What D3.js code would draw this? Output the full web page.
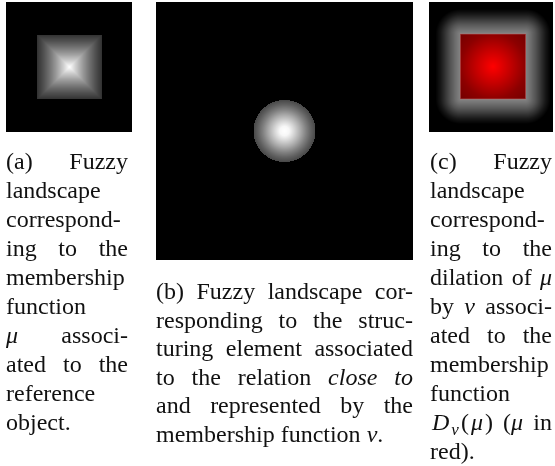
<!DOCTYPE html>
<html lang="en">
<head>
<meta charset="UTF-8">
<title>Fuzzy landscapes</title>
<script src="https://d3js.org/d3.v7.min.js"></script>
<style>
  body { margin: 0; background: #fff; }
  #fig { position: relative; width: 555px; height: 466px; }
  #fig canvas { position: absolute; }
  #fig svg { position: absolute; left: 0; top: 0; }
  text { font-family: 'Liberation Serif', 'Times New Roman', serif; font-size: 24px; fill: #111; }
</style>
</head>
<body>
<div id="fig"></div>
<script>
// grey levels (0..1), against distance from the centre (1 = edge of the object)
const muDist  = [0, 0.2, 0.4, 0.6, 0.8, 1];
const muGrey  = [1, 0.80, 0.62, 0.46, 0.32, 0.2];
const nuDist  = [0, 0.15, 0.3, 0.5, 0.7, 0.85, 1];
const nuGrey  = [1, 0.97, 0.85, 0.68, 0.5, 0.38, 0.28];
// dilation outside the square, distance in units of the nu radius
const dilDist = [0, 0.2, 0.4, 0.6, 0.8, 1];
const dilGrey = [0.52, 0.43, 0.33, 0.21, 0.09, 0];
// red channel of mu inside the square of (c)
const redDist  = [0, 0.5, 1, 1.42];
const redLevel = [1, 0.78, 0.55, 0.45];

const captionA = [
  "(a) Fuzzy",
  "landscape",
  "correspond-",
  "ing to the",
  "membership",
  "function",
  "*μ* associ-",
  "ated to the",
  "reference",
  "object."
];
const captionB = [
  "(b) Fuzzy landscape cor-",
  "responding to the struc-",
  "turing element associated",
  "to the relation *close* *to*",
  "and represented by the",
  "membership function *ν*."
];
const captionC = [
  "(c) Fuzzy",
  "landscape",
  "correspond-",
  "ing to the",
  "dilation of *μ*",
  "by *ν* associ-",
  "ated to the",
  "membership",
  "function",
  "*D*_{ν}(*μ*) (*μ* in",
  "red)."
];

const fig = d3.select("#fig");

// paint one image pixel by pixel; shade(px, py) -> [r, g, b]
function paint(x, y, w, h, shade) {
  const canvas = fig.append("canvas")
      .attr("width", w).attr("height", h)
      .style("left", x + "px").style("top", y + "px");
  const ctx = canvas.node().getContext("2d");
  const img = ctx.createImageData(w, h);
  for (let j = 0; j < h; j++) {
    for (let i = 0; i < w; i++) {
      const c = shade(x + i + 0.5, y + j + 0.5);
      const k = (j * w + i) * 4;
      img.data[k] = c[0]; img.data[k + 1] = c[1]; img.data[k + 2] = c[2]; img.data[k + 3] = 255;
    }
  }
  ctx.putImageData(img, 0, 0);
}

const muScale  = d3.scaleLinear().domain(muDist).range(muGrey).clamp(true);
const nuScale  = d3.scaleLinear().domain(nuDist).range(nuGrey).clamp(true);
const dilScale = d3.scaleLinear().domain(dilDist).range(dilGrey).clamp(true);
const redScale = d3.scaleLinear().domain(redDist).range(redLevel).clamp(true);

// (a) mu: square pyramid
const A = { x: 6, y: 2, w: 126, h: 130, cx: 69.5, cy: 67, half: 32 };
const ax = d3.scaleLinear().domain([A.cx - A.half, A.cx + A.half]).range([-1, 1]);
const ay = d3.scaleLinear().domain([A.cy - A.half, A.cy + A.half]).range([-1, 1]);
paint(A.x, A.y, A.w, A.h, (px, py) => {
  const d = Math.max(Math.abs(ax(px)), Math.abs(ay(py)));
  if (d > 1) return [0, 0, 0];
  const g = Math.round(muScale(d) * 255);
  return [g, g, g];
});

// (b) nu: disc
const B = { x: 156, y: 2, w: 257, h: 258, cx: 284.5, cy: 131, r: 31 };
const bx = d3.scaleLinear().domain([B.cx - B.r, B.cx + B.r]).range([-1, 1]);
const by = d3.scaleLinear().domain([B.cy - B.r, B.cy + B.r]).range([-1, 1]);
paint(B.x, B.y, B.w, B.h, (px, py) => {
  const r = Math.hypot(bx(px), by(py));
  if (r > 1) return [0, 0, 0];
  const g = Math.round(nuScale(r) * 255);
  return [g, g, g];
});

// (c) dilation of mu by nu, mu in red
const C = { x: 429, y: 2, w: 124, h: 130, cx: 493, cy: 66.5, half: 32.5, r: 25 };
const cx = d3.scaleLinear().domain([C.cx - C.half, C.cx + C.half]).range([-1, 1]);
const cy = d3.scaleLinear().domain([C.cy - C.half, C.cy + C.half]).range([-1, 1]);
paint(C.x, C.y, C.w, C.h, (px, py) => {
  const u = cx(px), v = cy(py);
  if (Math.abs(u) <= 1 && Math.abs(v) <= 1) {
    return [Math.round(redScale(Math.hypot(u, v)) * 255), 0, 0];
  }
  const dx = Math.max(Math.abs(px - C.cx) - C.half, 0);
  const dy = Math.max(Math.abs(py - C.cy) - C.half, 0);
  const g = Math.round(dilScale(Math.hypot(dx, dy) / C.r) * 255);
  return [g, g, g];
});

const svg = fig.append("svg").attr("width", 555).attr("height", 466);

svg.append("rect")
    .attr("x", C.cx - C.half).attr("y", C.cy - C.half)
    .attr("width", C.half * 2).attr("height", C.half * 2)
    .attr("fill", "none")
    .attr("stroke", "rgba(190,110,110,0.55)")
    .attr("stroke-width", 1);

// split a word into runs: *italic*, _{subscript}
function runs(word) {
  return word.split(/(\*[^*]+\*|_\{[^}]+\})/).filter(s => s).map(s => {
    if (s[0] === "*") return { t: s.slice(1, -1), it: true };
    if (s[0] === "_") return { t: s.slice(2, -1), it: true, sub: true };
    return { t: s };
  });
}

function caption(lines, left, right, top, lh) {
  const g = svg.append("g");
  lines.forEach((line, li) => {
    const y = top + li * lh;
    const words = line.split(" ").map(w => {
      const t = g.append("text").attr("y", y);
      let shifted = false;
      const rs = runs(w);
      // math words get a little more room, like TeX math spacing
      const math = rs.some(r => r.sub);
      rs.forEach(r => {
        const ts = t.append("tspan").text(r.t);
        if (r.it) ts.style("font-style", "italic");
        if (math) ts.attr("dx", 2);
        if (r.sub) { ts.style("font-size", "17px").attr("dy", 5); shifted = true; }
        else if (shifted) { ts.attr("dy", -5); shifted = false; }
      });
      return { node: t, w: t.node().getComputedTextLength() + (math ? 2 * rs.length : 0) };
    });
    const total = d3.sum(words, d => d.w);
    const last = li === lines.length - 1;
    let gap = 6;
    if (!last && words.length > 1) gap = (right - left - total) / (words.length - 1);
    let x = left;
    words.forEach(d => { d.node.attr("x", x); x += d.w + gap; });
  });
}

caption(captionA, 6, 128, 169, 29);
caption(captionB, 156, 413, 299, 28.6);
caption(captionC, 430, 552, 169, 29);
</script>
</body>
</html>
